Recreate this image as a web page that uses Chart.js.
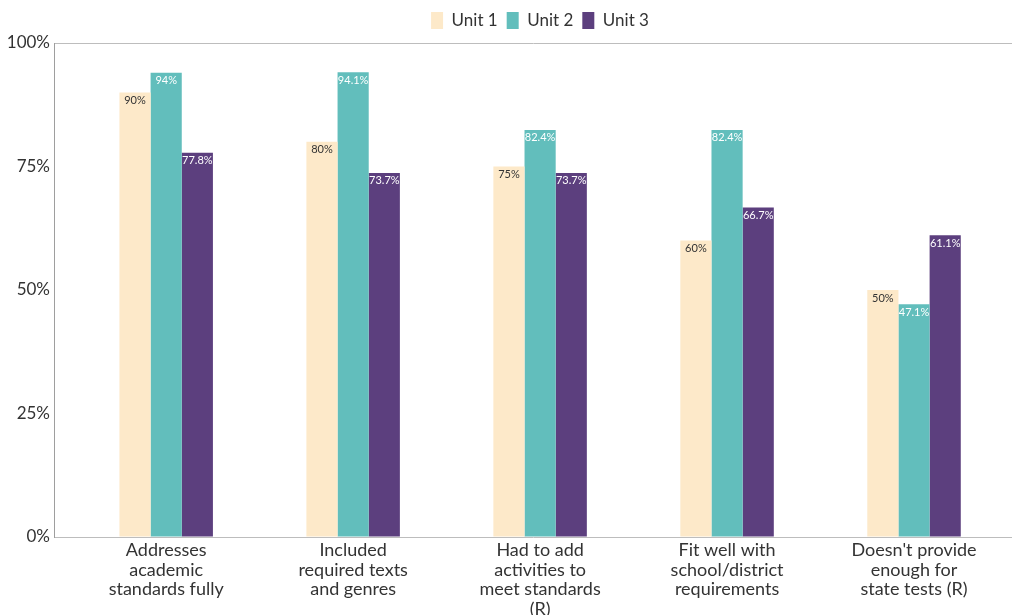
<!DOCTYPE html>
<html>
<head>
<meta charset="utf-8">
<script src="https://cdn.jsdelivr.net/npm/chart.js@4/dist/chart.umd.min.js"></script>
<style>
  html, body { margin: 0; padding: 0; background: #fff; overflow: hidden; }
  #wrap { width: 1012px; height: 615px; }
</style>
</head>
<body>
<div id="wrap"><canvas id="chart"></canvas></div>
<script>
const categories = [
    ['Addresses', 'academic', 'standards fully'],
    ['Included', 'required texts', 'and genres'],
    ['Had to add', 'activities to', 'meet standards', '(R)'],
    ['Fit well with', 'school/district', 'requirements'],
    ["Doesn't provide", 'enough for', 'state tests (R)']
];
const unit1 = [90, 80, 75, 60, 50];
const unit2 = [94, 94.1, 82.4, 82.4, 47.1];
const unit3 = [77.8, 73.7, 73.7, 66.7, 61.1];
const yTicks = [0, 25, 50, 75, 100];

const FONT = 'Lato, "DejaVu Sans", sans-serif';
const TEXT = '#333333';

function points(values) {
    return values.map((v, i) => ({x: i, y: v}));
}

// writes the percentage inside the top of each bar
const valueLabels = {
    id: 'valueLabels',
    afterDatasetsDraw(chart) {
        const ctx = chart.ctx;
        ctx.save();
        ctx.font = '11px ' + FONT;
        ctx.textAlign = 'center';
        ctx.textBaseline = 'middle';
        chart.data.datasets.forEach((ds, di) => {
            const meta = chart.getDatasetMeta(di);
            ctx.fillStyle = di === 0 ? TEXT : '#ffffff';
            meta.data.forEach((bar, i) => {
                ctx.fillText(ds.data[i].y + '%', bar.x, bar.y + 8);
            });
        });
        ctx.restore();
    }
};

// nudge the legend so it sits centred over the plot instead of the canvas
const legendShift = {
    id: 'legendShift',
    afterLayout(chart) {
        const lg = chart.legend;
        if (!lg) return;
        lg.left += 34;
        lg.right += 34;
        lg.top -= 4;
        lg.bottom -= 4;
    }
};

new Chart(document.getElementById('chart'), {
    type: 'bar',
    data: {
        datasets: [
            {label: 'Unit 1', data: points(unit1), backgroundColor: '#FDE9C9'},
            {label: 'Unit 2', data: points(unit2), backgroundColor: '#62BEBC'},
            {label: 'Unit 3', data: points(unit3), backgroundColor: '#5C3F7E'}
        ]
    },
    options: {
        responsive: true,
        maintainAspectRatio: false,
        animation: false,
        layout: {padding: {top: 7, right: 0, left: 0, bottom: 0}},
        datasets: {bar: {categoryPercentage: 0.5, barPercentage: 1, borderWidth: 0}},
        plugins: {
            legend: {
                position: 'top',
                labels: {
                    boxWidth: 12,
                    boxHeight: 17,
                    padding: 9,
                    color: TEXT,
                    font: {family: FONT, size: 17}
                }
            },
            tooltip: {enabled: false}
        },
        scales: {
            x: {
                type: 'linear',
                bounds: 'data',
                offset: false,
                min: -0.6,
                max: 4.524,
                grid: {display: false},
                border: {color: '#bdbdbd'},
                afterBuildTicks: scale => {
                    scale.ticks = categories.map((c, i) => ({value: i}));
                },
                afterFit: scale => { scale.height = 78; },
                ticks: {
                    autoSkip: false,
                    maxRotation: 0,
                    padding: -5,
                    color: TEXT,
                    font: {family: FONT, size: 18, lineHeight: 1.1},
                    callback: v => categories[v]
                }
            },
            y: {
                min: 0,
                max: 100,
                afterBuildTicks: scale => {
                    scale.ticks = yTicks.map(v => ({value: v}));
                },
                afterFit: scale => { scale.width = 54; },
                grid: {
                    drawTicks: false,
                    color: c => c.tick && c.tick.value === 100 ? '#bdbdbd' : 'rgba(0,0,0,0)'
                },
                border: {color: '#9e9e9e'},
                ticks: {
                    padding: 4,
                    color: TEXT,
                    font: {family: FONT, size: 17},
                    callback: v => v + '%'
                }
            }
        }
    },
    plugins: [valueLabels, legendShift]
});
</script>
</body>
</html>
